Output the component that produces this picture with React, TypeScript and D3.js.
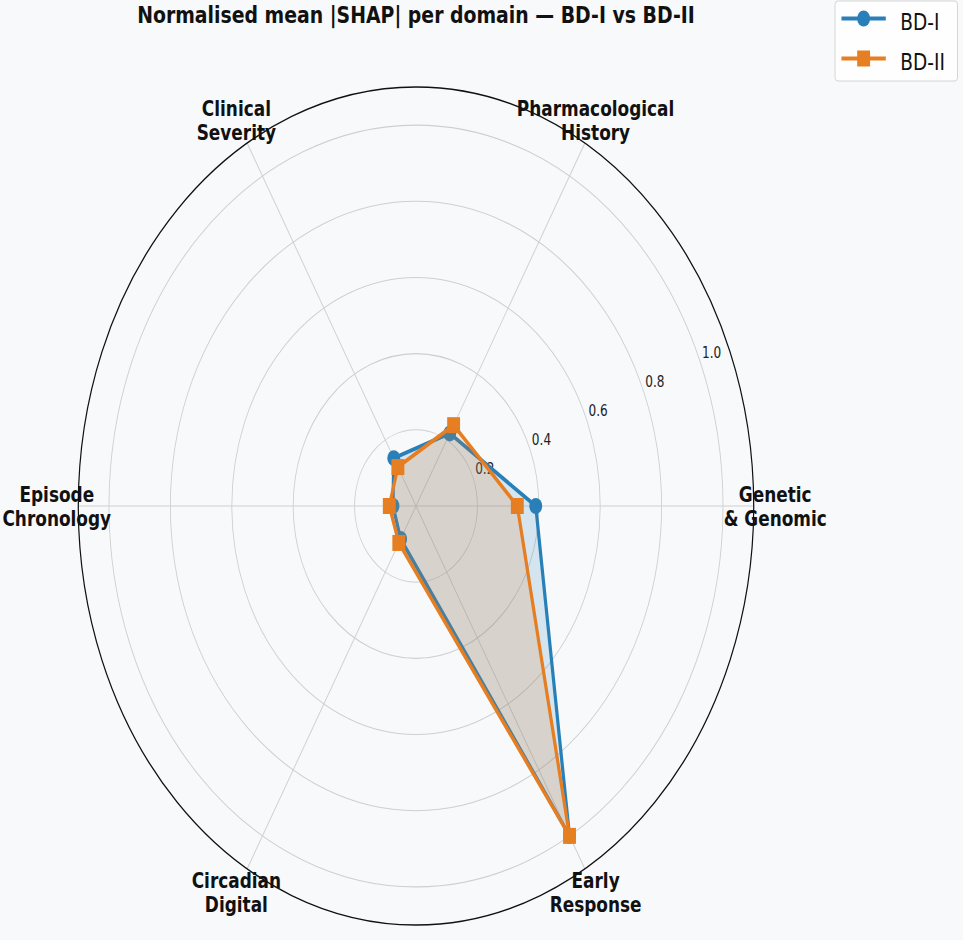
import React from 'react';
import * as d3 from 'd3';

// domains, clockwise from east as matplotlib lays them out (counter-clockwise angles)
const categories = [
  ['Genetic', '& Genomic'],
  ['Pharmacological', 'History'],
  ['Clinical', 'Severity'],
  ['Episode', 'Chronology'],
  ['Circadian', 'Digital'],
  ['Early', 'Response'],
];
const bd1Values = [0.39, 0.22, 0.145, 0.075, 0.1, 1.0];
const bd2Values = [0.33, 0.245, 0.118, 0.087, 0.112, 1.0];
const radialTicks = [0.2, 0.4, 0.6, 0.8, 1.0];
const seriesNames = ['BD-I', 'BD-II'];

const WIDTH = 963;
const HEIGHT = 940;
// the picture is squeezed horizontally, so draw on a wider canvas and scale it down
const SQUEEZE = 0.806;
const CX = 416 / SQUEEZE;
const CY = 506;
const RMAX = 1.1;
const BG = '#f7f9fb';
const BLUE = '#2980b9';
const ORANGE = '#e67e22';
const FONT = '"DejaVu Sans", sans-serif';
const LW = 4;
const MR = 8;

const r = d3.scaleLinear().domain([0, RMAX]).range([0, 419]);
// matplotlib angle (ccw from east) for each category
const theta = (i: number) => (i * 2 * Math.PI) / categories.length;
const px = (t: number, v: number) => CX + r(v) * Math.cos(t);
const py = (t: number, v: number) => CY - r(v) * Math.sin(t);

const radial = d3
  .lineRadial<number>()
  .angle((_d, i) => Math.PI / 2 - theta(i))
  .radius(d => r(d))
  .curve(d3.curveLinearClosed);

const Marker = ({ x, y, color, kind }: { x: number; y: number; color: string; kind: 'circle' | 'square' }) =>
  kind === 'circle' ? (
    <circle cx={x} cy={y} r={MR} fill={color} />
  ) : (
    <rect x={x - MR} y={y - MR} width={MR * 2} height={MR * 2} fill={color} />
  );

const Series = ({ values, color, marker }: { values: number[]; color: string; marker: 'circle' | 'square' }) => (
  <g>
    <path
      d={radial(values) ?? ''}
      transform={`translate(${CX},${CY})`}
      fill="none"
      stroke={color}
      strokeWidth={LW}
      strokeLinejoin="round"
    />
    {values.map((v, i) => (
      <Marker key={i} x={px(theta(i), v)} y={py(theta(i), v)} color={color} kind={marker} />
    ))}
    <path d={radial(values) ?? ''} transform={`translate(${CX},${CY})`} fill={color} fillOpacity={0.17} stroke="none" />
  </g>
);

export default function App() {
  return (
    <svg
      width={WIDTH}
      height={HEIGHT}
      style={{ position: 'absolute', left: 0, top: 0, background: BG }}
      fontFamily={FONT}
    >
      <rect width={WIDTH} height={HEIGHT} fill={BG} />
      <g transform={`scale(${SQUEEZE},1)`}>
        {/* grid rings */}
        {radialTicks.map(t => (
          <circle key={t} cx={CX} cy={CY} r={r(t)} fill="none" stroke="#cfcfcf" strokeWidth={1.1} />
        ))}
        {/* spokes */}
        {categories.map((_c, i) => (
          <line
            key={i}
            x1={CX}
            y1={CY}
            x2={px(theta(i), RMAX)}
            y2={py(theta(i), RMAX)}
            stroke="#cfcfcf"
            strokeWidth={1.1}
          />
        ))}
        {/* radial tick labels */}
        {radialTicks.map(t => (
          <text key={t} x={px(Math.PI / 8, t) + 3} y={py(Math.PI / 8, t) - 2.5} fontSize={15} fill="#222">
            {t.toFixed(1)}
          </text>
        ))}
        <Series values={bd1Values} color={BLUE} marker="circle" />
        <Series values={bd2Values} color={ORANGE} marker="square" />
        {/* outer frame */}
        <circle cx={CX} cy={CY} r={r(RMAX)} fill="none" stroke="#111" strokeWidth={1.5} />
        {/* category labels */}
        {categories.map((lines, i) => {
          const x = CX + r(1.0) * 1.17 * Math.cos(theta(i));
          const y = CY - r(1.0) * 1.17 * Math.sin(theta(i));
          return (
            <text key={i} x={x} y={y} textAnchor="middle" fontSize={21} fontWeight="bold" fill="#111">
              {lines.map((ln, j) => (
                <tspan key={j} x={x} y={y + (j - 0.5) * 24 + 8}>
                  {ln}
                </tspan>
              ))}
            </text>
          );
        })}
        {/* title */}
        <text x={CX} y={23} textAnchor="middle" fontSize={23.4} fontWeight="bold" fill="#111">
          Normalised mean |SHAP| per domain — BD-I vs BD-II
        </text>
        {/* legend */}
        <rect x={1036} y={1} width={152} height={80} rx={4} fill="#ffffff" fillOpacity={0.85} stroke="#d4d4d4" strokeWidth={1.2} />
        {seriesNames.map((name, i) => {
          const ly = 18.5 + i * 40;
          const color = i === 0 ? BLUE : ORANGE;
          return (
            <g key={name}>
              <line x1={1044} x2={1099} y1={ly} y2={ly} stroke={color} strokeWidth={LW} />
              <Marker x={1071.5} y={ly} color={color} kind={i === 0 ? 'circle' : 'square'} />
              <text x={1117} y={ly + 11.5} fontSize={23} fill="#111">
                {name}
              </text>
            </g>
          );
        })}
      </g>
    </svg>
  );
}
